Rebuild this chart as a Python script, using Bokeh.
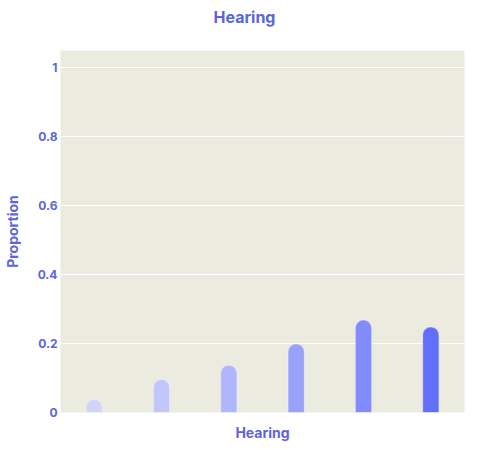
from bokeh.plotting import figure
from bokeh.models import FactorRange, Range1d, FixedTicker, Title, ColumnDataSource
from bokeh.embed import file_html
from bokeh.resources import INLINE

categories = ["1", "2", "3", "4", "5", "6"]
proportions = [0.038, 0.096, 0.137, 0.199, 0.268, 0.248]
bar_colors = ["#d0d4fb", "#c1c6fc", "#b0b6fb", "#99a1fa", "#818bf9", "#636efa"]
y_ticks = [0, 0.2, 0.4, 0.6, 0.8, 1]
x_label = "Hearing"
y_label = "Proportion"
chart_title = "Hearing"

TEXT = "#5b66d9"
FONT = "Inter"

src = ColumnDataSource(dict(cat=categories, val=proportions, color=bar_colors))

p = figure(
    width=480, height=449,
    x_range=FactorRange(*categories, range_padding=0),
    y_range=Range1d(0, 1.05),
    output_backend="svg", toolbar_location=None,
    min_border_left=60, min_border_right=16, min_border_top=50, min_border_bottom=37,
    title=None,
)

p.vbar(x="cat", top="val", width=0.24, source=src, fill_color="color",
       line_color="white", line_alpha=0.35, line_width=1,
       border_radius=(8, 8, 0, 0))

t = Title(text=chart_title + "\n ", align="left", offset=153, text_font=FONT,
          text_font_size="16px", text_font_style="bold", text_color=TEXT,
          standoff=8)
p.add_layout(t, "above")

xt = Title(text=x_label, align="center", text_font=FONT,
           text_font_size="14px", text_font_style="bold", text_color=TEXT,
           standoff=18)
p.add_layout(xt, "below")

p.background_fill_color = "#ecebdf"
p.border_fill_color = "white"
p.outline_line_color = None

p.xaxis.visible = False
p.xgrid.grid_line_color = None
p.ygrid.grid_line_color = "white"
p.ygrid.grid_line_width = 1

ax = p.yaxis[0]
ax.ticker = FixedTicker(ticks=y_ticks)
ax.major_label_overrides = {0: "0", 1: "1"}
ax.axis_line_color = None
ax.major_tick_line_color = None
ax.minor_tick_line_color = None
ax.major_tick_out = 0
ax.major_tick_in = 0
ax.minor_tick_out = 0
ax.major_label_text_font = FONT
ax.major_label_text_font_size = "12px"
ax.major_label_text_font_style = "bold"
ax.major_label_text_color = TEXT
ax.axis_label = y_label
ax.axis_label_text_font = FONT
ax.axis_label_text_font_size = "14px"
ax.axis_label_text_font_style = "bold"
ax.axis_label_text_color = TEXT
ax.major_label_standoff = 3
ax.axis_label_standoff = 14

open("out.html", "w").write(file_html(p, INLINE))
